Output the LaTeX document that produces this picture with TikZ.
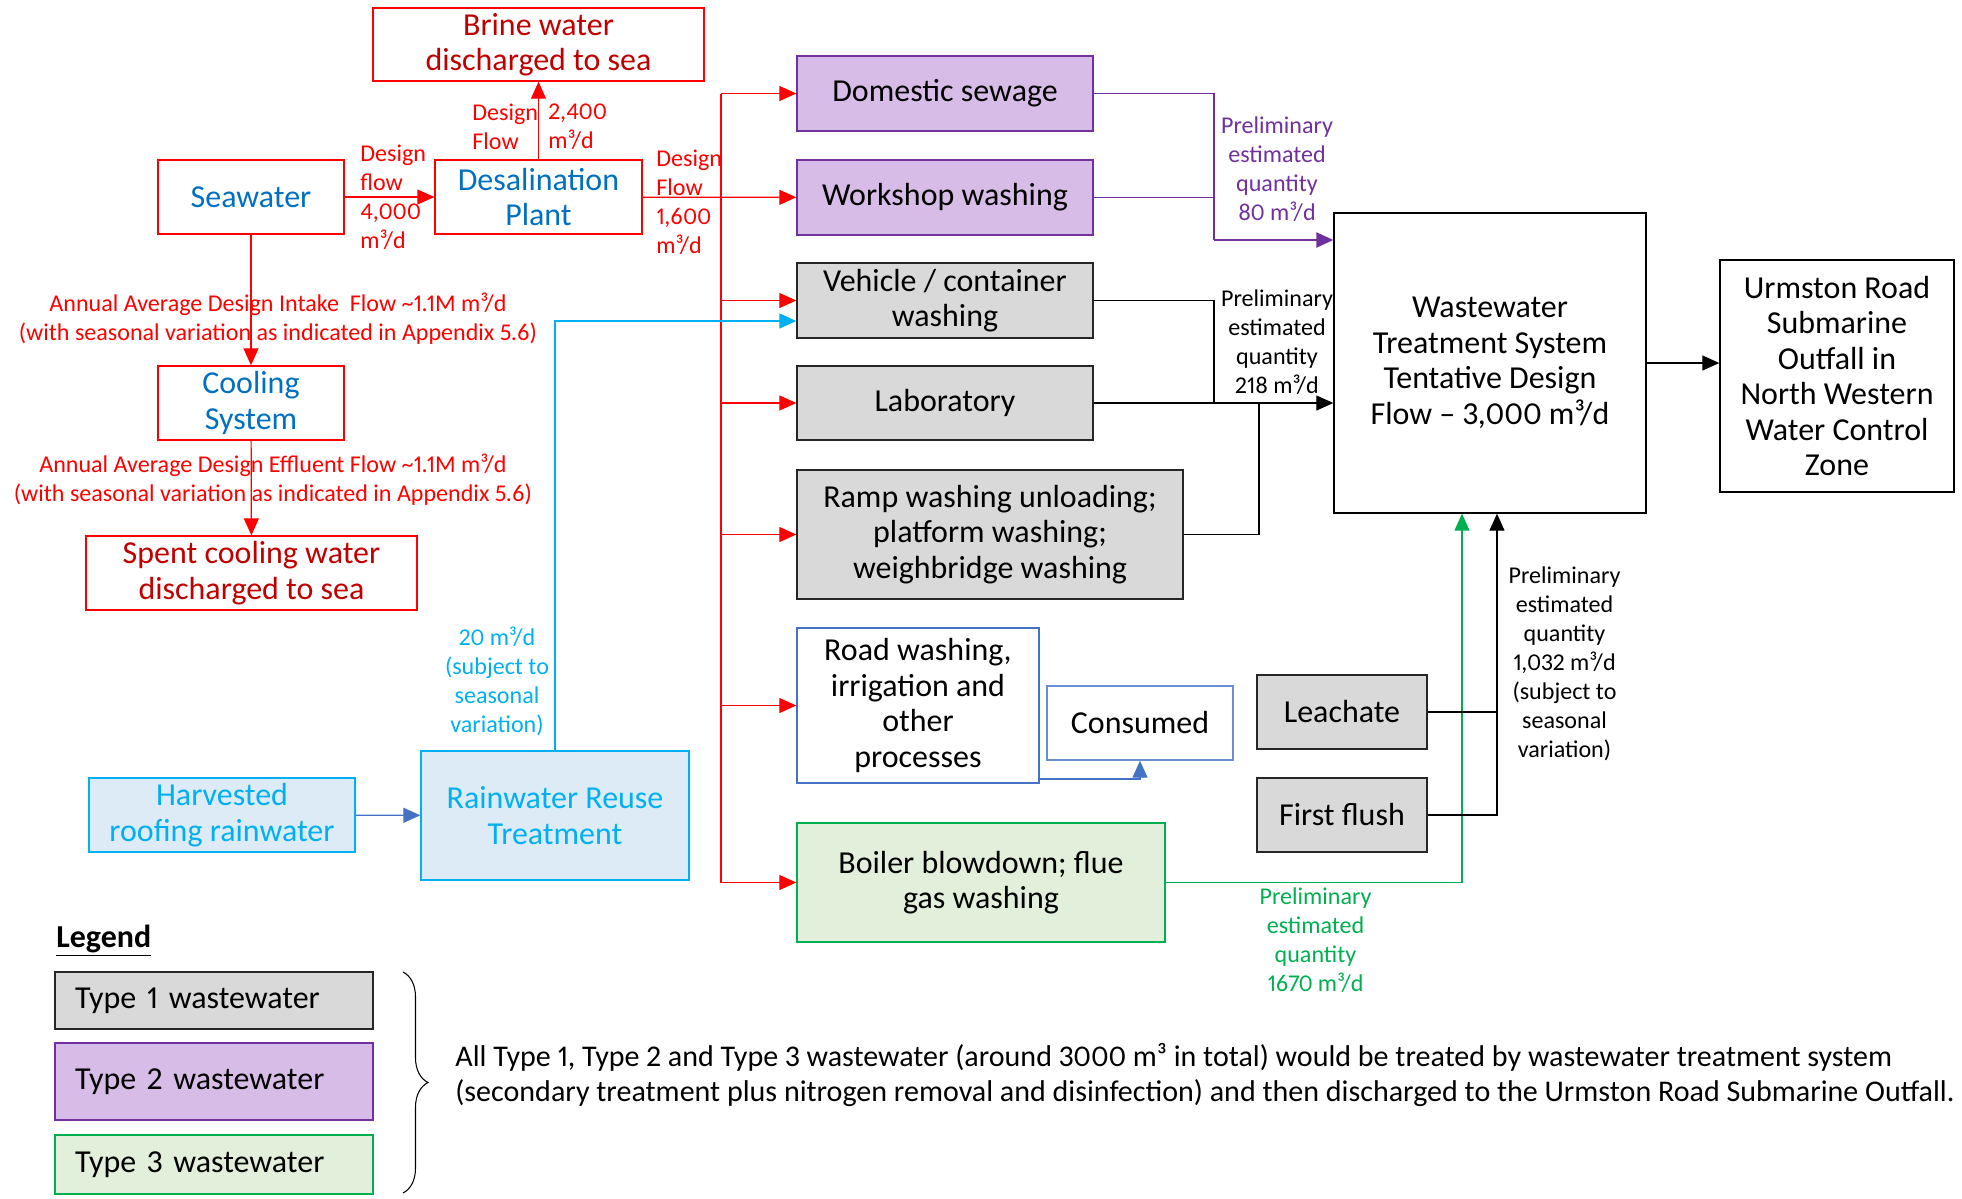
\documentclass[tikz,border=0pt]{standalone}
\usepackage{fontspec}
\setmainfont{Carlito}[Numbers=Proportional]
\usetikzlibrary{arrows.meta,decorations.pathreplacing}
\definecolor{flowred}{HTML}{FF0000}
\definecolor{darkred}{HTML}{C00000}
\definecolor{seablue}{HTML}{0070C0}
\definecolor{ptwo}{HTML}{7030A0}
\definecolor{ptwofill}{HTML}{D8BCE8}
\definecolor{ponefill}{HTML}{D9D9D9}
\definecolor{pthree}{HTML}{00B050}
\definecolor{pthreefill}{HTML}{E2EFDA}
\definecolor{rain}{HTML}{00B0F0}
\definecolor{rainfill}{HTML}{DDEBF7}
\definecolor{roadblue}{HTML}{4472C4}
\begin{document}
\begin{tikzpicture}[x=0.02cm, y=-0.02cm]
		% Define the styles for boxes, labels and flows
		\tikzstyle{box}=[draw, line width=0.8pt, align=center, inner sep=2pt,
		font=\fontsize{18.2}{20.2}\selectfont]
		\tikzstyle{redbox}=[box, draw=flowred, text=seablue]
		\tikzstyle{seabox}=[box, draw=flowred, text=darkred]
		\tikzstyle{onebox}=[box, draw=black!85, fill=ponefill]
		\tikzstyle{twobox}=[box, draw=ptwo, fill=ptwofill]
		\tikzstyle{threebox}=[box, draw=pthree, fill=pthreefill]
		\tikzstyle{rainbox}=[box, draw=rain, fill=rainfill, text=rain]
		\tikzstyle{legbox}=[text width=5.56cm, inner xsep=0.4cm, align=left]
		\tikzstyle{lbl}=[align=center, inner sep=0pt, font=\fontsize{13.7}{16.5}\selectfont]
		\tikzstyle{flow}=[line width=0.7pt]
		\tikzstyle{arr}=[flow, -{Triangle[length=0.34cm, width=0.3cm]}]
		
		\useasboundingbox (0,0) rectangle (1962,1198);
		
		% Seawater side
		\node (brine) at (538.5, 44.5) [seabox, minimum width=6.62cm, minimum height=1.46cm]
		{Brine water\\discharged to sea};
		\node (sea) at (251, 197) [redbox, minimum width=3.72cm, minimum height=1.48cm] {Seawater};
		\node (desal) at (538.5, 197) [redbox, minimum width=4.14cm, minimum height=1.48cm]
		{Desalination\\Plant};
		\node (cool) at (251, 403) [redbox, minimum width=3.72cm, minimum height=1.48cm]
		{Cooling\\System};
		\node (spent) at (251.5, 573) [seabox, minimum width=6.62cm, minimum height=1.48cm]
		{Spent cooling water\\discharged to sea};
		
		% Wastewater sources
		\node (dom) at (945, 93.5) [twobox, minimum width=5.92cm, minimum height=1.5cm] {Domestic sewage};
		\node (work) at (945, 197.5) [twobox, minimum width=5.92cm, minimum height=1.5cm] {Workshop washing};
		\node (veh) at (945, 300.5) [onebox, minimum width=5.92cm, minimum height=1.5cm]
		{Vehicle / container\\washing};
		\node (lab) at (945, 403) [onebox, minimum width=5.92cm, minimum height=1.48cm] {Laboratory};
		\node (ramp) at (990, 534.5) [onebox, minimum width=7.72cm, minimum height=2.58cm]
		{Ramp washing unloading;\\platform washing;\\weighbridge washing};
		\node (road) at (918, 705.5) [box, draw=roadblue, minimum width=4.84cm, minimum height=3.1cm]
		{Road washing,\\irrigation and\\other\\processes};
		\node (cons) at (1140, 723) [box, draw=roadblue!80, minimum width=3.72cm, minimum height=1.48cm]
		{Consumed};
		\node (boil) at (981, 882.5) [threebox, minimum width=7.36cm, minimum height=2.38cm]
		{Boiler blowdown; flue\\gas washing};
		\node (leach) at (1342, 712) [onebox, minimum width=3.4cm, minimum height=1.48cm] {Leachate};
		\node (flush) at (1342, 815) [onebox, minimum width=3.4cm, minimum height=1.48cm] {First flush};
		\node (harv) at (222, 815) [rainbox, minimum width=5.32cm, minimum height=1.48cm]
		{Harvested\\roofing rainwater};
		\node (rwr) at (555, 815.5) [rainbox, minimum width=5.36cm, minimum height=2.58cm]
		{Rainwater Reuse\\Treatment};
		
		% Treatment and outfall
		\node (wwt) at (1490, 363) [box, minimum width=6.24cm, minimum height=6cm]
		{Wastewater\\Treatment System\\Tentative Design\\Flow -- 3,000 m³/d};
		\node (outf) at (1837, 376) [box, minimum width=4.68cm, minimum height=4.64cm]
		{Urmston Road\\Submarine\\Outfall in\\North Western\\Water Control\\Zone};
		
		% Bus lines
		\coordinate (bus) at (721, 0); \coordinate (pj) at (1214, 240);
		\coordinate (pb) at (1214, 0); \coordinate (rb) at (1259, 0);
		\coordinate (gb) at (1462, 0); \coordinate (kb) at (1497, 0);
		\coordinate (cy) at (0, 321); \coordinate (cu) at (0, 779);
		
		% Red flows
		\draw[arr, flowred] (sea) -- (desal); \draw[arr, flowred] (desal) -- (brine);
		\draw[arr, flowred] (sea) -- (cool); \draw[arr, flowred] (cool) -- (spent);
		\draw[arr, flowred] (desal) -- (work);
		\draw[flow, flowred] (bus |- dom.west) -- (bus |- boil.west);
		\foreach \n in {dom, veh, lab, ramp, road, boil}
		\draw[arr, flowred] (bus |- \n.west) -- (\n.west);
		
		% Rainwater flows
		\draw[arr, roadblue] (harv) -- (rwr);
		\draw[arr, rain] (rwr.north) |- (cy -| veh.west);
		\draw[arr, roadblue] (cu -| road.east) -| (cons.south);
		
		% Flows to treatment
		\draw[flow, ptwo] (dom.east) -| (pj); \draw[flow, ptwo] (work.east) -- (work.east -| pj);
		\draw[arr, ptwo, line width=1.3pt] (pj) -- (pj -| wwt.west);
		\draw[flow] (veh.east) -| (pb |- lab.east); \draw[flow] (ramp.east) -| (rb |- lab.east);
		\draw[arr] (lab.east) -- (lab.east -| wwt.west);
		\draw[arr, pthree] (boil.east) -| (gb |- wwt.south);
		\draw[flow] (leach.east) -- (leach.east -| kb);
		\draw[arr] (flush.east) -| (kb |- wwt.south);
		\draw[arr] (wwt.east) -- (wwt.east -| outf.west);
		
		% Flow labels
		\node (l1) at (360, 197.5) [lbl, anchor=west, align=left, text=flowred]
		{Design\\flow\\4,000\\m³/d};
		\node (l2) at (472, 126.5) [lbl, anchor=west, align=left, text=flowred] {Design\\Flow};
		\node (l3) at (548, 126.5) [lbl, anchor=west, align=left, text=flowred] {2,400\\m³/d};
		\node (l4) at (656, 202) [lbl, anchor=west, align=left, text=flowred]
		{Design\\Flow\\1,600\\m³/d};
		\node (l5) at (278, 318.5) [lbl, text=flowred]
		{Annual Average Design Intake\ \ Flow \textasciitilde1.1M m³/d\\(with seasonal variation as indicated in Appendix 5.6)};
		\node (l6) at (273, 480) [lbl, text=flowred]
		{Annual Average Design Effluent Flow \textasciitilde1.1M m³/d\\(with seasonal variation as indicated in Appendix 5.6)};
		\node (l7) at (497, 681) [lbl, text=rain] {20 m³/d\\(subject to\\seasonal\\variation)};
		\node (l8) at (1277, 169.5) [lbl, text=ptwo] {Preliminary\\estimated\\quantity\\80 m³/d};
		\node (l9) at (1277, 342.5) [lbl] {Preliminary\\estimated\\quantity\\218 m³/d};
		\node (l10) at (1564.5, 664) [lbl]
		{Preliminary\\estimated\\quantity\\1,032 m³/d\\(subject to\\seasonal\\variation)};
		\node (l11) at (1315.5, 940.5) [lbl, text=pthree] {Preliminary\\estimated\\quantity\\1670 m³/d};
		
		% Legend
		\node (leg) at (56, 947) [anchor=base west, inner sep=0pt, font=\fontsize{18.2}{20.2}\selectfont]
		{\underline{\textbf{Legend}}};
		\node (t1) at (214, 1000.5) [onebox, legbox, minimum height=1.14cm] {Type 1 wastewater};
		\node (t2) at (214, 1081.5) [twobox, legbox, minimum height=1.54cm] {Type 2 wastewater};
		\node (t3) at (214, 1164.5) [threebox, legbox, minimum height=1.18cm] {Type 3 wastewater};
		\draw[decorate, decoration={brace, amplitude=0.5cm}, line width=0.6pt] (403, 972) -- (403, 1193);
		\node (note) at (455, 1075) [anchor=west, align=left, inner sep=0pt,
		font=\fontsize{17.1}{19.9}\selectfont]
		{All Type 1, Type 2 and Type 3 wastewater (around 3000 m³ in total) would be treated by wastewater treatment system\\
		(secondary treatment plus nitrogen removal and disinfection) and then discharged to the Urmston Road Submarine Outfall.};
\end{tikzpicture}
\end{document}
